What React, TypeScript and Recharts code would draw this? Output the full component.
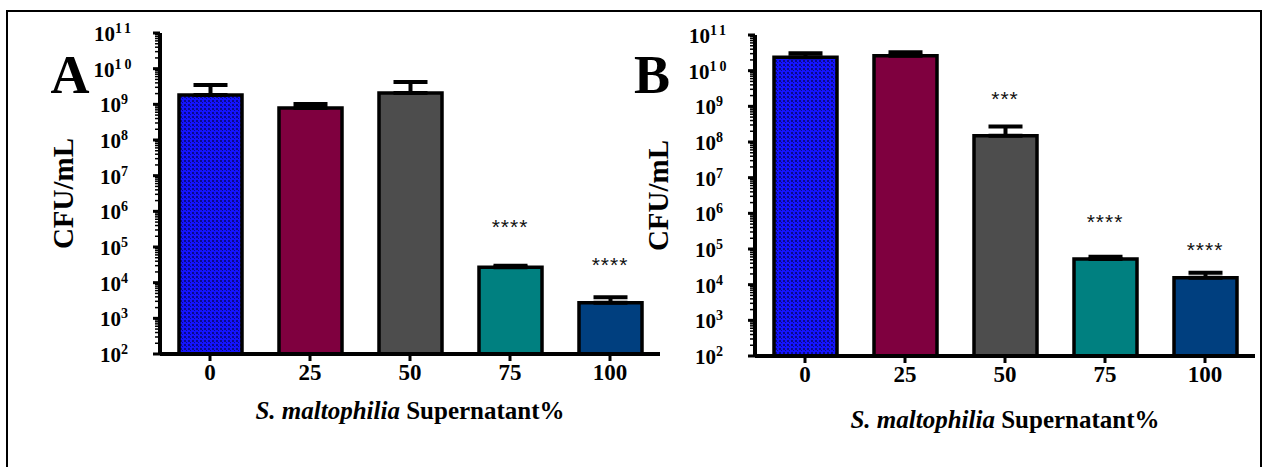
import React from "react";
import { BarChart, Bar, XAxis, YAxis, Cell, ErrorBar, ReferenceDot, Label } from "recharts";

const categories = ["0", "25", "50", "75", "100"];
const barColors = ["url(#checkBlue)", "#7f003f", "#4d4d4d", "#008080", "#003f7f"];

// panel A: mean CFU/mL and top of the SEM bar
const aMeans = [1.83e9, 7.9e8, 2.08e9, 2.7e4, 2.75e3];
const aUpper = [3.5e9, 1.02e9, 4.2e9, 3.0e4, 3.9e3];
const aStars = ["", "", "", "****", "****"];
const aStarAt = [0, 0, 0, 4.7e5, 4.1e4];

// panel B
const bMeans = [2.37e10, 2.63e10, 1.5e8, 5.25e4, 1.57e4];
const bUpper = [3.07e10, 3.27e10, 2.7e8, 6.1e4, 2.17e4];
const bStars = ["", "", "***", "****", "****"];
const bStarAt = [0, 0, 2.1e9, 7.4e5, 1.2e5];

const decades = [1e2, 1e3, 1e4, 1e5, 1e6, 1e7, 1e8, 1e9, 1e10, 1e11];
const minorSteps = [2, 3, 4, 5, 6, 7, 8, 9];
const yTicks = [
  ...decades,
  ...decades.slice(0, -1).flatMap((d) => minorSteps.map((m) => d * m)),
].sort((p, q) => p - q);

const SERIF = "'Liberation Serif', 'Times New Roman', serif";
const SANS = "'Liberation Sans', Arial, sans-serif";
const X_AXIS_H = 100;

const YTick = ({ x, y, payload }: any) => {
  const lg = Math.log10(payload.value);
  const e = Math.round(lg);
  if (Math.abs(lg - e) > 1e-6) {
    return <line x1={x - 5} x2={x} y1={y} y2={y} stroke="#000" strokeWidth={1.5} />;
  }
  return (
    <g>
      <line x1={x - 7} x2={x} y1={y} y2={y} stroke="#000" strokeWidth={3} />
      <text
        x={x - 46}
        y={y + 8}
        textAnchor="middle"
        fontFamily={SERIF}
        fontWeight="bold"
        fontSize={21}
        fill="#000"
      >
        10
        <tspan dy={-8} fontSize={14} letterSpacing={e > 9 ? 3 : 0}>
          {e}
        </tspan>
      </text>
    </g>
  );
};

const XTick = ({ x, y, payload }: any) => (
  <text x={x} y={y + 17} textAnchor="middle" fontFamily={SERIF} fontWeight="bold" fontSize={23} fill="#000">
    {payload.value}
  </text>
);

function Panel({
  letter,
  letterX,
  means,
  upper,
  stars,
  starAt,
  top,
  xLabelY,
}: {
  letter: string;
  letterX: number;
  means: number[];
  upper: number[];
  stars: string[];
  starAt: number[];
  top: number;
  xLabelY: number;
}) {
  const data = categories.map((c, i) => ({
    cat: c,
    mean: means[i],
    err: [0, upper[i] - means[i]],
  }));
  const plotH = 321;
  return (
    <BarChart
      width={670}
      height={467}
      data={data}
      margin={{ top, right: 10, bottom: 467 - top - plotH - X_AXIS_H, left: 60 }}
      barSize={63}
    >
      <defs>
        <pattern id="checkBlue" width="4" height="4" patternUnits="userSpaceOnUse">
          <rect width="4" height="4" fill="#1414ff" />
          <rect x="0" y="0" width="2" height="2" fill="#0a0a8a" />
          <rect x="2" y="2" width="1" height="1" fill="#0a0a8a" />
        </pattern>
      </defs>
      <XAxis
        dataKey="cat"
        axisLine={{ stroke: "#000", strokeWidth: 4 }}
        tickLine={{ stroke: "#000", strokeWidth: 3 }}
        tickSize={7}
        tick={<XTick />}
        height={X_AXIS_H}
        interval={0}
      >
        <Label
          content={(p: any) => {
            const vb = p.viewBox || {};
            return (
              <text
                x={vb.x + vb.width / 2}
                y={vb.y + xLabelY}
                textAnchor="middle"
                fontFamily={SERIF}
                fontWeight="bold"
                fontSize={25}
                fill="#000"
              >
                <tspan fontStyle="italic">S. maltophilia</tspan> Supernatant%
              </text>
            );
          }}
        />
      </XAxis>
      <YAxis
        type="number"
        scale="log"
        domain={[1e2, 1e11]}
        allowDataOverflow
        ticks={yTicks}
        interval={0}
        width={100}
        axisLine={{ stroke: "#000", strokeWidth: 4 }}
        tickLine={false}
        tickSize={0}
        tickMargin={0}
        tick={<YTick />}
      >
        <Label
          content={(p: any) => {
            const vb = p.viewBox || {};
            const cy = vb.y + vb.height / 2;
            return (
              <g>
                <text
                  x={letterX}
                  y={93}
                  textAnchor="middle"
                  fontFamily={SERIF}
                  fontWeight="bold"
                  fontSize={54}
                  fill="#000"
                >
                  {letter}
                </text>
                <text
                  x={73}
                  y={cy}
                  transform={`rotate(-90, 73, ${cy})`}
                  textAnchor="middle"
                  fontFamily={SERIF}
                  fontWeight="bold"
                  fontSize={29}
                  fill="#000"
                >
                  CFU/mL
                </text>
              </g>
            );
          }}
        />
      </YAxis>
      <Bar dataKey="mean" stroke="#000" strokeWidth={3.5} isAnimationActive={false}>
        {categories.map((c, i) => (
          <Cell key={c} fill={barColors[i]} />
        ))}
        <ErrorBar dataKey="err" direction="y" width={17} stroke="#000" strokeWidth={4} isAnimationActive={false} />
      </Bar>
      {categories.map((c, i) =>
        stars[i] ? (
          <ReferenceDot
            key={"s" + c}
            x={c}
            y={starAt[i]}
            r={0}
            ifOverflow="visible"
            shape={(sp: any) => (
              <text
                x={sp.cx}
                y={sp.cy + 11}
                textAnchor="middle"
                fontFamily={SANS}
                fontSize={21}
                letterSpacing={1}
                fill="#111"
              >
                {stars[i]}
              </text>
            )}
          />
        ) : null
      )}
    </BarChart>
  );
}

export default function App() {
  return (
    <div
      style={{
        position: "absolute",
        left: 0,
        top: 0,
        width: 1265,
        height: 467,
        background: "#fff",
        overflow: "hidden",
      }}
    >
      <div
        style={{
          position: "absolute",
          left: 6,
          top: 10,
          width: 1252,
          height: 470,
          border: "2px solid #000",
        }}
      />
      <div style={{ position: "absolute", left: 0, top: 0 }}>
        <Panel
          letter="A"
          letterX={70}
          means={aMeans}
          upper={aUpper}
          stars={aStars}
          starAt={aStarAt}
          top={33}
          xLabelY={65}
        />
      </div>
      <div style={{ position: "absolute", left: 595, top: 0 }}>
        <Panel
          letter="B"
          letterX={57}
          means={bMeans}
          upper={bUpper}
          stars={bStars}
          starAt={bStarAt}
          top={35}
          xLabelY={72}
        />
      </div>
    </div>
  );
}
